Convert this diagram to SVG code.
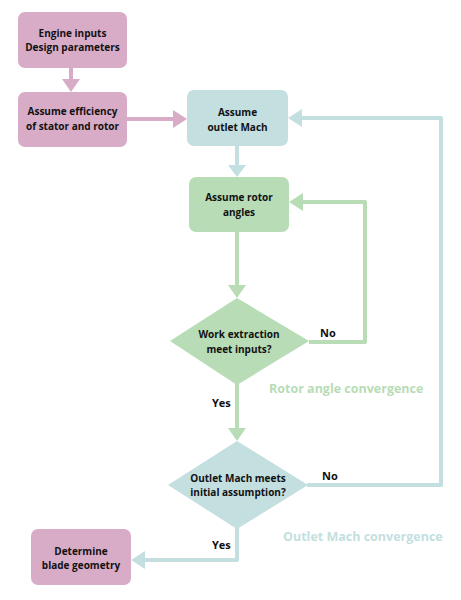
<svg xmlns="http://www.w3.org/2000/svg" width="461" height="600" viewBox="0 0 461 600">
<style>
.t{font-family:"Open Sans","Liberation Sans",sans-serif;font-weight:700;font-size:10px;fill:#111;text-anchor:middle}
.lbl{font-family:"Open Sans","Liberation Sans",sans-serif;font-weight:700;font-size:11px;fill:#111}
.pink{fill:#d8abc7}
.teal{fill:#c3dfe0}
.green{fill:#b7dcb6}
.cp{stroke:#d8abc7;stroke-width:4;fill:none}
.ct{stroke:#c3dfe0;stroke-width:4;fill:none;stroke-linejoin:round}
.cg{stroke:#b7dcb6;stroke-width:4;fill:none;stroke-linejoin:round}
.big{font-family:"Open Sans","Liberation Sans",sans-serif;font-weight:700;font-size:12.5px}
</style>
<rect width="461" height="600" fill="#fff"/>
<g id="connectors">
<path class="cp" d="M71 68V80"/><path class="pink" d="M62 79H80L71 92Z"/>
<path class="cp" d="M127 119H174"/><path class="pink" d="M173 110V128L187 119Z"/>
<path class="ct" d="M237 146V166"/><path class="teal" d="M228 165H246L237 177Z"/>
<path class="cg" d="M237 232V286"/><path class="green" d="M228 285H246L237 298Z"/>
<path class="cg" d="M309 342H365V202H302"/><path class="green" d="M303 193V211L289 202Z"/>
<path class="cg" d="M237 384V429"/><path class="green" d="M228 428H246L237 441Z"/>
<path class="ct" d="M307 485H441V118H301"/><path class="teal" d="M302 109V127L288 118Z"/>
<path class="ct" d="M237 528V560H144"/><path class="teal" d="M145 551V569L131 560Z"/>
</g>
<g id="n1"><rect class="pink" x="18" y="12" width="109" height="56" rx="7"/><text class="t" x="72.5" y="37">Engine inputs</text><text class="t" x="72.5" y="51">Design parameters</text></g>
<g id="n2"><rect class="pink" x="18" y="92" width="109" height="55" rx="7"/><text class="t" x="72.5" y="115">Assume efficiency</text><text class="t" x="72.5" y="130">of stator and rotor</text></g>
<g id="n3"><rect class="teal" x="187" y="90" width="101" height="56" rx="7"/><text class="t" x="237.5" y="116">Assume</text><text class="t" x="237.5" y="131">outlet Mach</text></g>
<g id="n4"><rect class="green" x="189" y="177" width="100" height="55" rx="7"/><text class="t" x="239" y="201">Assume rotor</text><text class="t" x="239" y="216">angles</text></g>
<g id="d1"><path class="green" d="M237 298L309 341L237 385L170 341Z"/><text class="t" x="239" y="338">Work extraction</text><text class="t" x="239" y="353">meet inputs?</text></g>
<g id="d2"><path class="teal" d="M237 441L308 485L237 529L168 485Z"/><text class="t" x="238" y="482">Outlet Mach meets</text><text class="t" x="238" y="496">initial assumption?</text></g>
<g id="n5"><rect class="pink" x="31" y="529" width="100" height="56" rx="7"/><text class="t" x="81" y="555">Determine</text><text class="t" x="81" y="569">blade geometry</text></g>
<text class="lbl" x="320" y="337">No</text>
<text class="lbl" x="212" y="407">Yes</text>
<text class="lbl" x="322" y="480">No</text>
<text class="lbl" x="212" y="549">Yes</text>
<text class="big" x="269" y="393" fill="#b7dcb6">Rotor angle convergence</text>
<text class="big" x="283" y="541" fill="#c3dfe0">Outlet Mach convergence</text>
</svg>
